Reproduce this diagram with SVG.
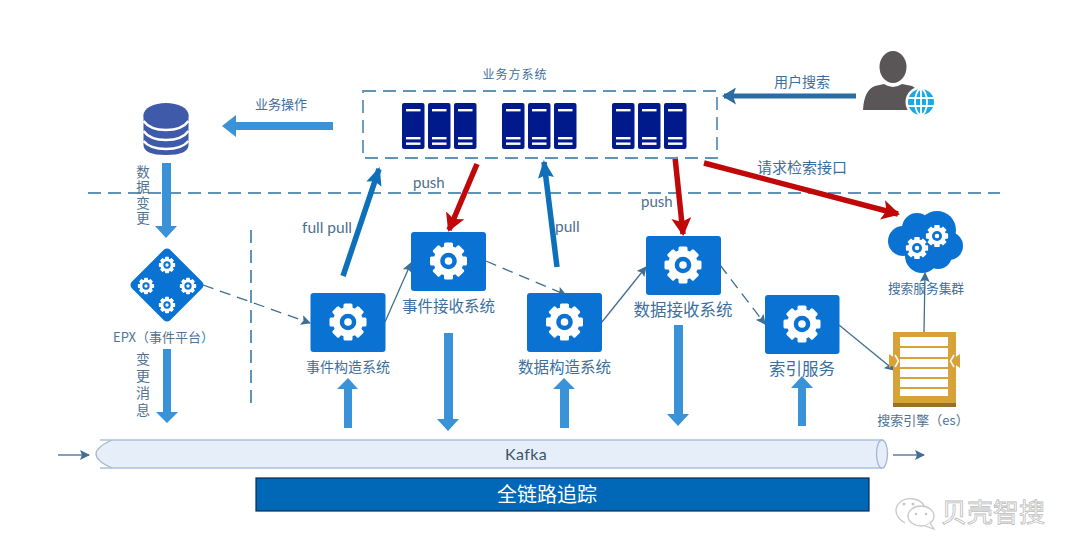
<svg xmlns="http://www.w3.org/2000/svg" xmlns:xlink="http://www.w3.org/1999/xlink" width="1080" height="559" viewBox="0 0 1080 559">
<style>
text{font-family:"Noto Sans CJK SC","Noto Sans",sans-serif;fill:#3b6f9e}
.lat{font-family:Lato,"Noto Sans",sans-serif;fill:#4d6f8e}
.m{text-anchor:middle}
.dk{fill:#4f7392}
.box{fill:#0a72d3}
.blk{fill:#3a93d8}
.dash{fill:none;stroke:#5f93b8;stroke-width:2;stroke-dasharray:13 7}
.thin{fill:none;stroke:#3f6f92;stroke-width:1.3}
.dt{stroke-dasharray:11 7}
.red{fill:none;stroke:#c00808;stroke-width:5.500}
.bl{fill:none;stroke:#0f70ba;stroke-width:5.500}
.srv{fill:#001a8c}
.slot{fill:#fff}
.vt{writing-mode:vertical-rl;text-anchor:start}
</style>
<defs>
<marker id="mr" markerUnits="userSpaceOnUse" viewBox="0 0 18 20" markerWidth="18" markerHeight="20" refX="16" refY="10" orient="auto"><path d="M0 0L18 10L0 20L4 10Z" fill="#c00808"/></marker>
<marker id="mb" markerUnits="userSpaceOnUse" viewBox="0 0 18 16" markerWidth="18" markerHeight="16" refX="16" refY="8" orient="auto"><path d="M0 0L18 8L0 16L3 8Z" fill="#0f70ba"/></marker>
<marker id="mu" markerUnits="userSpaceOnUse" viewBox="0 0 14 17" markerWidth="14" markerHeight="17" refX="12" refY="8.500" orient="auto"><path d="M0 0L14 8.500L0 17L3 8.500Z" fill="#2a6ca3"/></marker>
<marker id="mt" markerUnits="userSpaceOnUse" viewBox="0 0 10 10" markerWidth="10" markerHeight="10" refX="9" refY="5" orient="auto"><path d="M0 0L10 5L0 10L2 5Z" fill="#3f6f92"/></marker>
<g id="gear">
<circle r="15" fill="#fff"/>
<g fill="#fff">
<rect x="-4.500" y="-18.500" width="9" height="37" rx="1.500"/>
<rect x="-4.500" y="-18.500" width="9" height="37" rx="1.500" transform="rotate(45)"/>
<rect x="-4.500" y="-18.500" width="9" height="37" rx="1.500" transform="rotate(90)"/>
<rect x="-4.500" y="-18.500" width="9" height="37" rx="1.500" transform="rotate(135)"/>
</g>
<circle r="8.300" fill="#0a72d3"/>
<circle r="3.800" fill="#fff"/>
</g>
<g id="server">
<rect width="22.500" height="46" rx="2" class="srv"/>
<rect x="4" y="6" width="14.500" height="2.400" class="slot"/>
<rect x="4" y="34" width="14.500" height="2.400" class="slot"/>
<rect x="4" y="39.500" width="14.500" height="2.400" class="slot"/>
</g>
<g id="rack">
<use href="#server"/>
<use href="#server" x="26"/>
<use href="#server" x="52"/>
</g>
</defs>
<rect width="1080" height="559" fill="#fff"/>

<g id="guides">
<path class="dash" d="M88 193H1000"/>
<path class="dash" d="M251 230V410"/>
</g>

<g id="kafka">
<path d="M112 440H882V468H112Q80 454 112 440Z" fill="#e6eef9"/>
<path d="M100 440H882M100 468H882" fill="none" stroke="#a9c1e0" stroke-width="1.600"/>
<path d="M112 440Q80 454 112 468" fill="none" stroke="#a9b8cc" stroke-width="1.300"/>
<ellipse cx="882" cy="454" rx="5.500" ry="14" fill="#e6eef9" stroke="#a3b8d0" stroke-width="1.300"/>
<text class="lat m" x="526" y="459.500" font-size="16" letter-spacing=".4" style="fill:#3d5568">Kafka</text>
</g>

<g id="trace">
<rect x="256" y="478" width="613" height="33" fill="#0068b7" stroke="#0a2a50" stroke-width="1.200"/>
<text class="m" x="547" y="502" font-size="20" style="fill:#fff">全链路追踪</text>
</g>

<g id="connectors">
<polygon class="blk" points="333,122 236,122 236,115 222,126 236,137 236,130 333,130"/>
<polygon class="blk" points="162,163 171,163 171,226 177,226 166,238 155,226 162,226"/>
<polygon class="blk" points="163,349 171,349 171,412 178,412 167,423 156,412 163,412"/>
<polygon class="blk" points="344,428 352,428 352,389 358,389 348,378 337,389 344,389"/>
<polygon class="blk" points="444,333 453,333 453,419 459,419 448,431 437,419 444,419"/>
<polygon class="blk" points="560,428 569,428 569,389 575,389 564,378 553,389 560,389"/>
<polygon class="blk" points="674,325 683,325 683,414 689,414 678,426 667,414 674,414"/>
<polygon class="blk" points="798,426 806,426 806,388 813,388 802,376 791,388 798,388"/>

<path class="bl" marker-end="url(#mb)" d="M343 276L379 169"/>
<path class="bl" marker-end="url(#mb)" d="M557 267L544 162"/>
<path class="red" marker-end="url(#mr)" d="M477 164L449 230"/>
<path class="red" marker-end="url(#mr)" d="M675 157L683 234"/>
<path class="red" marker-end="url(#mr)" d="M704 163L898 214"/>
<path fill="none" stroke="#2a6ca3" stroke-width="5" marker-end="url(#mu)" d="M856 96H724"/>

<path class="thin dt" marker-end="url(#mt)" d="M203 285L310 323"/>
<path class="thin" marker-end="url(#mt)" d="M385 322L411 263"/>
<path class="thin dt" marker-end="url(#mt)" d="M486 261L566 295"/>
<path class="thin" marker-end="url(#mt)" d="M602 322L646 267"/>
<path class="thin dt" marker-end="url(#mt)" d="M720 265L765 324"/>
<path class="thin" marker-end="url(#mt)" d="M839 325L894 370"/>
<path class="thin" marker-end="url(#mt)" d="M924 332L925 273"/>
<path class="thin" marker-end="url(#mt)" d="M58 455H89"/>
<path class="thin" marker-end="url(#mt)" d="M893 455H924"/>
</g>

<g id="biz-system">
<rect x="363" y="91" width="354" height="67" fill="none" stroke="#5f93b8" stroke-width="1.800" stroke-dasharray="13 7"/>
<use href="#rack" x="402" y="103"/>
<use href="#rack" x="502" y="103"/>
<use href="#rack" x="612" y="103"/>
<text class="m" x="515" y="79" font-size="12" letter-spacing="1">业务方系统</text>
</g>

<g id="database">
<path d="M143.500 115V145Q143.500 155 166 155Q188.500 155 188.500 145V115Z" fill="#3f5aa8"/>
<ellipse cx="166" cy="115" rx="22.500" ry="12" fill="#3f5aa8"/>
<path d="M143.500 121Q150 130 166 130Q182 130 188.500 121" fill="none" stroke="#fff" stroke-width="2.500"/>
<path d="M143.500 131Q150 140 166 140Q182 140 188.500 131" fill="none" stroke="#fff" stroke-width="2.500"/>
<path d="M143.500 141Q150 149 166 149Q182 149 188.500 141" fill="none" stroke="#fff" stroke-width="2.500"/>
</g>

<g id="epx">
<polygon class="box" points="167,253 199,285 167,317 135,285" stroke="#0a72d3" stroke-width="9" stroke-linejoin="round"/>
<use href="#gear" transform="translate(167 265) scale(.44)"/>
<use href="#gear" transform="translate(146 286) scale(.44)"/>
<use href="#gear" transform="translate(188 286) scale(.44)"/>
<use href="#gear" transform="translate(167 305) scale(.44)"/>
<text class="m dk" x="163.500" y="342" font-size="13">EPX（事件平台）</text>
</g>

<g id="event-builder">
<rect class="box" x="310.500" y="293" width="75" height="59" rx="3"/>
<use href="#gear" x="348" y="322"/>
<text class="m" x="348" y="372" font-size="14">事件构造系统</text>
</g>
<g id="event-receiver">
<rect class="box" x="411" y="232" width="75" height="59" rx="3"/>
<use href="#gear" x="448.500" y="261"/>
<text class="m" x="448.500" y="312" font-size="15.500">事件接收系统</text>
</g>
<g id="data-builder">
<rect class="box" x="527" y="293" width="75" height="59" rx="3"/>
<use href="#gear" x="564.500" y="322"/>
<text class="m" x="564.500" y="373" font-size="15.500">数据构造系统</text>
</g>
<g id="data-receiver">
<rect class="box" x="646" y="236" width="75" height="59" rx="3"/>
<use href="#gear" x="683" y="265"/>
<text class="m" x="683" y="316" font-size="16.500">数据接收系统</text>
</g>
<g id="index-service">
<rect class="box" x="765" y="295" width="74.500" height="59" rx="3"/>
<use href="#gear" x="802" y="324"/>
<text class="m" x="802" y="375" font-size="16.500">索引服务</text>
</g>

<g id="search-cluster">
<g class="box">
<circle cx="903" cy="241" r="15"/>
<circle cx="917" cy="228" r="15"/>
<circle cx="937" cy="230" r="19"/>
<circle cx="949" cy="246" r="14"/>
<circle cx="922" cy="256" r="17"/>
<circle cx="938" cy="255" r="14"/>
</g>
<use href="#gear" transform="translate(917 248) scale(.6)"/>
<use href="#gear" transform="translate(937 236) scale(.6)"/>
<text class="m" x="926" y="293" font-size="12.700">搜索服务集群</text>
</g>

<g id="search-engine">
<rect x="893" y="332" width="63" height="75" fill="#d8a23a"/>
<rect x="893" y="403" width="63" height="4" fill="#9c6f28"/>
<g fill="#fff">
<rect x="900" y="337" width="48" height="9"/>
<rect x="900" y="348" width="48" height="9"/>
<rect x="900" y="359" width="48" height="8"/>
<rect x="900" y="369" width="48" height="8"/>
<rect x="900" y="379" width="48" height="8"/>
<rect x="900" y="389" width="48" height="7"/>
</g>
<polygon points="889,354 899,361 889,368" fill="#d8a23a"/>
<polygon points="960,354 950,361 960,368" fill="#d8a23a"/>
<path d="M895 355L898.500 361L895 367M954 355L950.500 361L954 367" fill="none" stroke="#fff" stroke-width="1.500"/>
<text class="m dk" x="923" y="425" font-size="13">搜索引擎（es）</text>
</g>

<g id="user">
<ellipse cx="893" cy="67" rx="13.500" ry="16" fill="#5a5658"/>
<path d="M863 110Q864 90 875 86L884 84Q893 90 902 84L912 86Q918 88 920 100L910 110Z" fill="#5a5658"/>
<circle cx="921" cy="102" r="15.500" fill="#fff"/>
<circle cx="921" cy="102" r="13" fill="#1ea7e0"/>
<g fill="none" stroke="#fff" stroke-width="1.800">
<ellipse cx="921" cy="102" rx="6" ry="13"/>
<path d="M921 89V115M908 98H934M908 106H934"/>
</g>
</g>

<g id="labels">
<text class="m" x="281" y="109" font-size="13">业务操作</text>
<text class="m" x="802" y="87" font-size="14">用户搜索</text>
<text class="m" x="802" y="173" font-size="15">请求检索接口</text>
<text class="lat" x="413" y="188" font-size="15">push</text>
<text class="lat" x="641" y="207" font-size="15">push</text>
<text class="lat" x="302" y="233" font-size="15.500">full pull</text>
<text class="lat" x="555" y="232" font-size="15.500">pull</text>
<text class="dk vt" x="143" y="165" font-size="13.500" letter-spacing="2">数据变更</text>
<text class="dk vt" x="143" y="352" font-size="14" letter-spacing="3">变更消息</text>
</g>

<g id="watermark">
<g fill="#fff" stroke="#c8c8c8" stroke-width="1.300">
<path d="M905 523Q893 516 897 506Q902 497 914 499Q923 501 925 508"/>
<ellipse cx="921" cy="516" rx="13" ry="10"/>
<path d="M930 523L934 529L925 526"/>
</g>
<g fill="#c8c8c8"><circle cx="904" cy="504" r="1.500"/><circle cx="913" cy="504" r="1.500"/><circle cx="916" cy="514" r="1.300"/><circle cx="926" cy="514" r="1.300"/></g>
<text x="941" y="522" font-size="26" style="fill:#fff;stroke:#bdbdbd;stroke-width:.8">贝壳智搜</text>
</g>
</svg>
